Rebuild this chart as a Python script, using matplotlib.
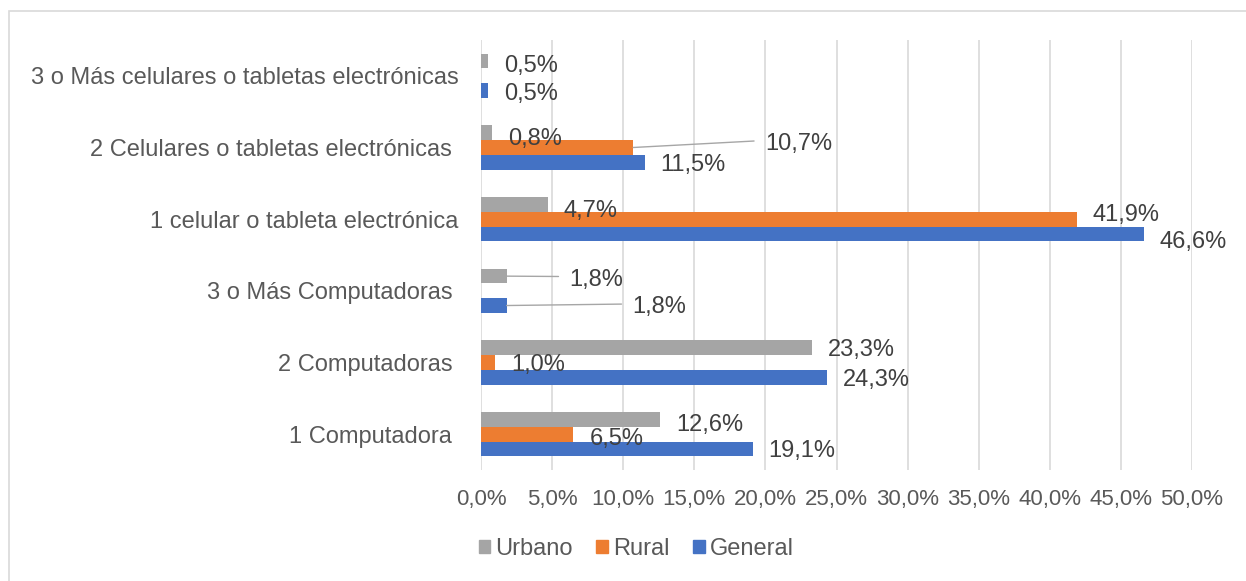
import numpy as np
import matplotlib
matplotlib.use("Agg")
import matplotlib.pyplot as plt
from matplotlib.patches import Patch, Rectangle

plt.rcParams['font.family'] = ['Liberation Sans', 'DejaVu Sans']

# data, bottom to top as in the chart
categories = ["1 Computadora ", "2 Computadoras ", "3 o Más Computadoras ",
              "1 celular o tableta electrónica",
              "2 Celulares o tabletas electrónicas ",
              "3 o Más celulares o tabletas electrónicas"]
series = ["Urbano", "Rural", "General"]
urbano = [12.6, 23.3, 1.8, 4.7, 0.8, 0.5]
rural = [6.5, 1.0, np.nan, 41.9, 10.7, np.nan]
general = [19.1, 24.3, 1.8, 46.6, 11.5, 0.5]
xticks = np.arange(0, 51, 5)

colors = {"Urbano": "#a5a5a5", "Rural": "#ed7d31", "General": "#4472c4"}
values = {"Urbano": urbano, "Rural": rural, "General": general}
shift = {"Urbano": 0.205, "Rural": 0.0, "General": -0.205}

# label placement tweaks in pixels: (dx from bar end, dy down, leader line)
label_pos = {
    ("Urbano", 0): (16, 3, False), ("Rural", 0): (16, 2, False),
    ("Urbano", 2): (63, 1, True), ("General", 2): (126, -1, True),
    ("Urbano", 3): (16, 4, False), ("Rural", 3): (16, -7, False),
    ("General", 3): (16, 6, False),
    ("Urbano", 4): (16, 4, False), ("Rural", 4): (132, -6.5, True),
    ("Urbano", 5): (16, 2, False), ("General", 5): (16, 1, False),
}

fig = plt.figure(figsize=(12.46, 5.81), dpi=100)
ax = fig.add_axes([481/1246, 1-470/581, 711/1246, 430/581])

y = np.arange(len(categories))
px = 0.72  # pixels -> points

for s in series:
    vals = np.array(values[s], dtype=float)
    ax.barh(y + shift[s], vals, height=0.205, color=colors[s], label=s, zorder=3)
    for i, v in enumerate(vals):
        if np.isnan(v):
            continue
        dx, dy, leader = label_pos.get((s, i), (16, 0, False))
        txt = ("%.1f%%" % v).replace(".", ",")
        kw = {}
        if leader:
            kw["arrowprops"] = dict(arrowstyle="-", color="#a6a6a6", lw=1.0,
                                    shrinkA=6, shrinkB=0, relpos=(0, 0.64))
        ax.annotate(txt, xy=(v, y[i] + shift[s]), xytext=(dx*px, -dy*px),
                    textcoords="offset points", ha="left", va="center_baseline",
                    fontsize=17, color="#404040", zorder=4, **kw)

ax.set_xlim(0, 50)
ax.set_ylim(-0.5, len(categories) - 0.5)
ax.set_xticks(xticks)
ax.set_xticklabels([("%.1f%%" % t).replace(".", ",") for t in xticks],
                   fontsize=16, color="#595959")
ax.set_yticks(y)
ax.set_yticklabels(categories, fontsize=17, color="#595959")
ax.tick_params(axis="both", length=0)
ax.tick_params(axis="x", pad=14)
ax.tick_params(axis="y", pad=16)
ax.grid(axis="x", color="#d9d9d9", lw=1.2, zorder=0)
for sp in ax.spines.values():
    sp.set_visible(False)

handles = [Patch(color=colors[s], label=s) for s in series]
fig.legend(handles=handles, loc="center", bbox_to_anchor=(636/1246, 1-549/581),
           ncol=3, frameon=False, fontsize=17, handlelength=0.5, handleheight=0.5,
           handletextpad=0.2, columnspacing=1.0, labelcolor="#595959")

# chart border (only top and left are inside the picture)
fig.add_artist(Rectangle((8.5/1246, -0.1), 1.2, 1.1 - 11/581, transform=fig.transFigure,
                         fill=False, edgecolor="#d9d9d9", lw=1.2))

fig.savefig("out.png", dpi=100)
